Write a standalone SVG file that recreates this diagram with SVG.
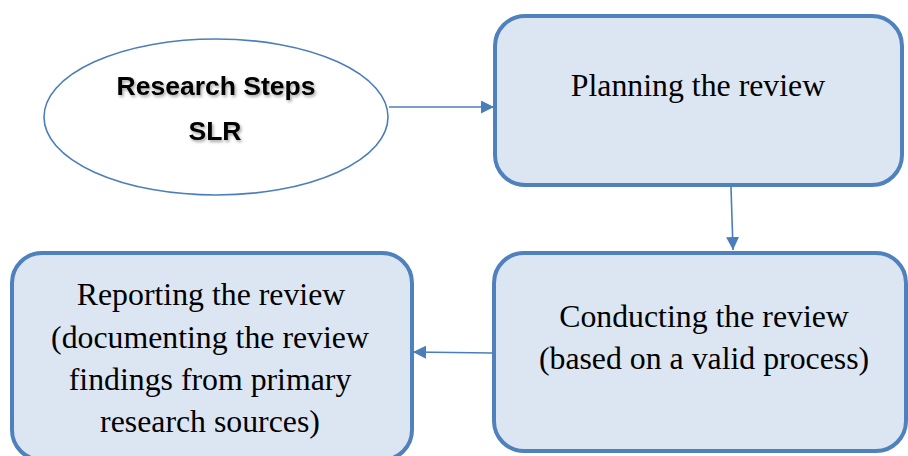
<svg xmlns="http://www.w3.org/2000/svg" width="908" height="456" viewBox="0 0 908 456">
<style>
.box{fill:#dce6f2;stroke:#4f81bd;stroke-width:4}
.ell{fill:#ffffff;stroke:#4a7ebb;stroke-width:1.6}
.t{font-family:"Liberation Serif","Times New Roman",serif;font-size:31.8px;fill:#000;text-anchor:middle}
.b{font-family:"Liberation Sans",Arial,sans-serif;font-weight:bold;font-size:26.5px;fill:#000;text-anchor:middle}
.c{stroke:#4a7ebb;stroke-width:1.6;fill:none;marker-end:url(#ah)}
</style>
<defs>
<marker id="ah" viewBox="0 0 10 10" refX="10" refY="5" markerWidth="13" markerHeight="13" markerUnits="userSpaceOnUse" orient="auto">
<path d="M0,0 L10,5 L0,10 z" fill="#4a7ebb"/>
</marker>
<filter id="sh" x="-10%" y="-30%" width="120%" height="160%">
<feDropShadow dx="1.5" dy="2" stdDeviation="1.5" flood-color="#000" flood-opacity="0.35"/>
</filter>
</defs>
<rect width="908" height="456" fill="#ffffff"/>
<g id="connectors">
<line class="c" x1="389" y1="107" x2="494" y2="107"/>
<line class="c" x1="731" y1="187" x2="733" y2="250"/>
<line class="c" x1="492" y1="353" x2="413" y2="352"/>
</g>
<g id="node-research">
<ellipse class="ell" cx="216" cy="117" rx="172" ry="78"/>
<g filter="url(#sh)">
<text class="b" x="216" y="95">Research Steps</text>
<text class="b" x="215" y="140">SLR</text>
</g>
</g>
<g id="node-planning">
<rect class="box" x="495" y="16" width="407" height="169" rx="30" ry="30"/>
<text class="t" x="698" y="96">Planning the review</text>
</g>
<g id="node-conducting">
<rect class="box" x="494" y="253" width="412" height="198" rx="30" ry="30"/>
<text class="t" x="704" y="327">Conducting the review</text>
<text class="t" x="704" y="369">(based on a valid process)</text>
</g>
<g id="node-reporting">
<rect class="box" x="12" y="253" width="400" height="207" rx="30" ry="30"/>
<text class="t" x="211" y="305">Reporting the review</text>
<text class="t" x="210" y="348">(documenting the review</text>
<text class="t" x="210" y="390">findings from primary</text>
<text class="t" x="210" y="432">research sources)</text>
</g>
</svg>
